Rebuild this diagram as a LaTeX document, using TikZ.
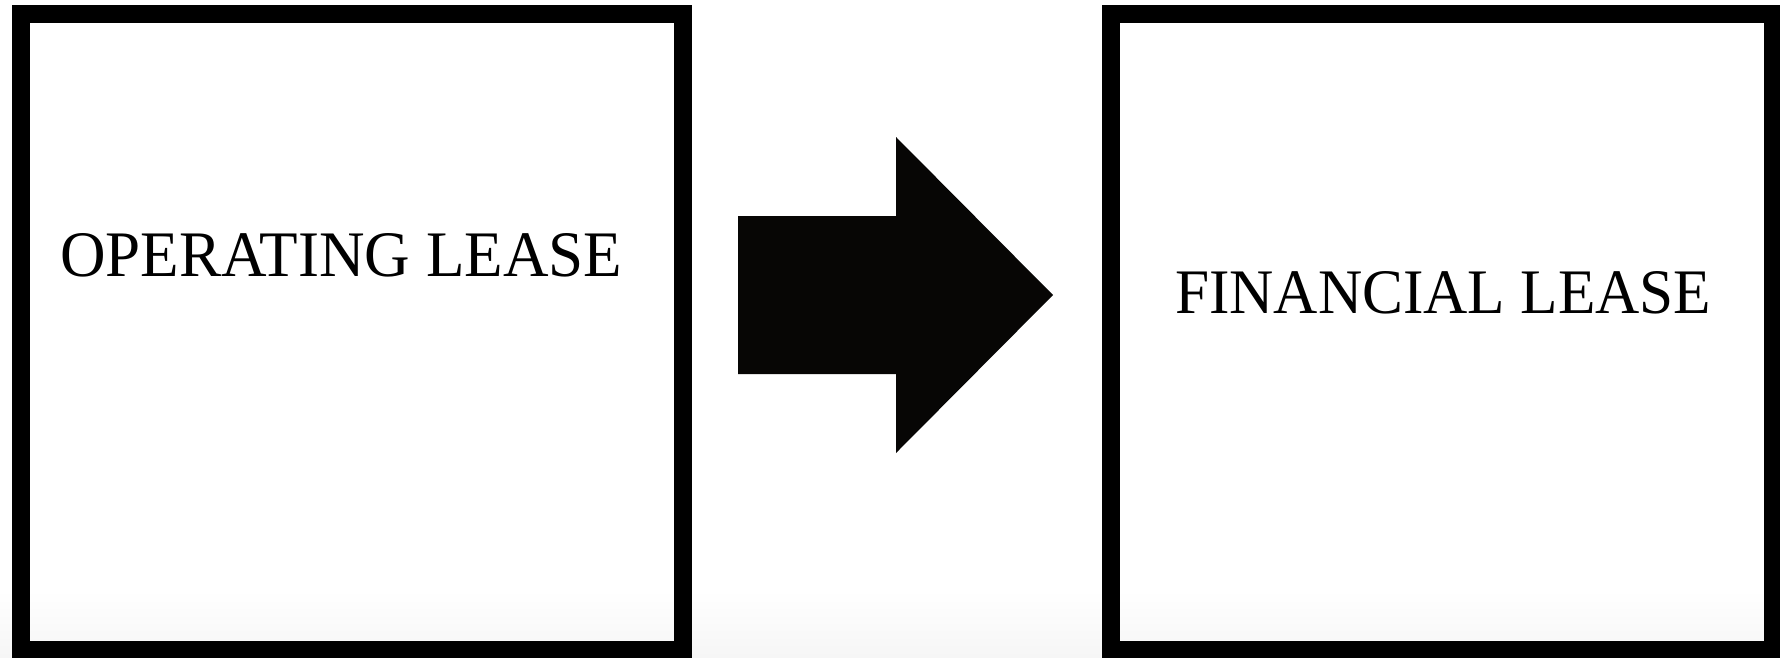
\documentclass[tikz,border=0pt]{standalone}
\usepackage{fontspec}
\setmainfont{Liberation Serif}
\definecolor{arrowblack}{RGB}{7,6,5}
\definecolor{bottomgrey}{RGB}{246,246,246}
\begin{document}
\begin{tikzpicture}[x=1pt,y=-1pt,
  leasebox/.style={draw=black,line width=18pt,rectangle,minimum width=662pt,minimum height=636pt,inner sep=0pt,fill=none},
  leaselabel/.style={inner sep=0pt,anchor=base west}]
\useasboundingbox (0,0) rectangle (1780,657);
\clip (0,0) rectangle (1780,657);
\fill[white] (0,0) rectangle (1780,657);
\shade[top color=white,bottom color=bottomgrey] (0,590) rectangle (1780,657);
\node[leasebox] (opbox) at (352,332) {};
\node[leasebox] (finbox) at (1442,332) {};
\node[leaselabel] (optext) at (60,276) {\resizebox{562pt}{43pt}{\fontsize{60pt}{60pt}\selectfont OPERATING LEASE}};
\node[leaselabel] (fintext) at (1175,313) {\resizebox{536pt}{42pt}{\fontsize{60pt}{60pt}\selectfont FINANCIAL LEASE}};
\fill[arrowblack] (738,216) -- (896,216) -- (896,137) -- (1053,295) -- (896,453) -- (896,374) -- (738,374) -- cycle;
\end{tikzpicture}
\end{document}
